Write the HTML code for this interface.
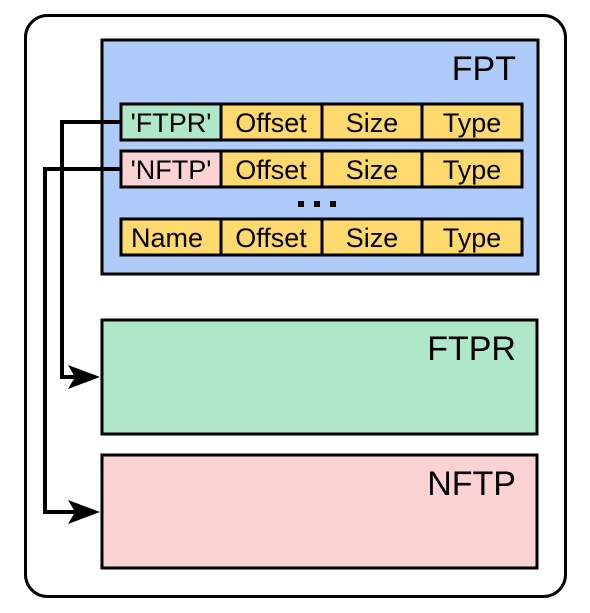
<!DOCTYPE html><html><head><style>body{margin:0;background:#fff}</style></head><body>
<svg width="590" height="608" xmlns="http://www.w3.org/2000/svg" font-family="Liberation Sans, sans-serif">
<rect x="25.5" y="15.5" width="540" height="581" rx="22" fill="#fff" stroke="#000" stroke-width="3"/>
<rect x="102" y="40" width="436" height="234" fill="#aecbfa" stroke="#000" stroke-width="3"/>
<text x="516" y="80" font-size="34" text-anchor="end">FPT</text>
<g stroke="#000" stroke-width="3">
<rect x="121" y="104" width="100" height="36" fill="#aee8c8"/>
<rect x="221" y="104" width="101" height="36" fill="#fed96e"/>
<rect x="322" y="104" width="100" height="36" fill="#fed96e"/>
<rect x="422" y="104" width="100" height="36" fill="#fed96e"/>
<rect x="121" y="151" width="100" height="36" fill="#fcd3d3"/>
<rect x="221" y="151" width="101" height="36" fill="#fed96e"/>
<rect x="322" y="151" width="100" height="36" fill="#fed96e"/>
<rect x="422" y="151" width="100" height="36" fill="#fed96e"/>
<rect x="121" y="219" width="100" height="36" fill="#fed96e"/>
<rect x="221" y="219" width="101" height="36" fill="#fed96e"/>
<rect x="322" y="219" width="100" height="36" fill="#fed96e"/>
<rect x="422" y="219" width="100" height="36" fill="#fed96e"/>
</g>
<g font-size="27" text-anchor="middle">
<text x="171" y="132">'FTPR'</text><text x="271" y="132">Offset</text><text x="372" y="132">Size</text><text x="472" y="132">Type</text>
<text x="171" y="179">'NFTP'</text><text x="271" y="179">Offset</text><text x="372" y="179">Size</text><text x="472" y="179">Type</text>
<text x="167" y="247">Name</text><text x="271" y="247">Offset</text><text x="372" y="247">Size</text><text x="472" y="247">Type</text>
</g>
<g fill="#000"><rect x="298" y="201" width="6" height="6"/><rect x="314" y="201" width="6" height="6"/><rect x="330" y="201" width="6" height="6"/></g>
<rect x="102" y="320" width="435" height="114" fill="#aee8c8" stroke="#000" stroke-width="3"/>
<text x="516" y="360" font-size="34" text-anchor="end">FTPR</text>
<rect x="102" y="455" width="435" height="113" fill="#fcd3d3" stroke="#000" stroke-width="3"/>
<text x="516" y="495" font-size="34" text-anchor="end">NFTP</text>
<g fill="none" stroke="#000" stroke-width="4">
<polyline points="121,122 62,122 62,377 75,377"/>
<polyline points="121,169 45,169 45,512 75,512"/>
</g>
<polygon points="100,377 68,365 75,377 68,389" fill="#000"/>
<polygon points="100,512 68,500 75,512 68,524" fill="#000"/>
</svg></body></html>
